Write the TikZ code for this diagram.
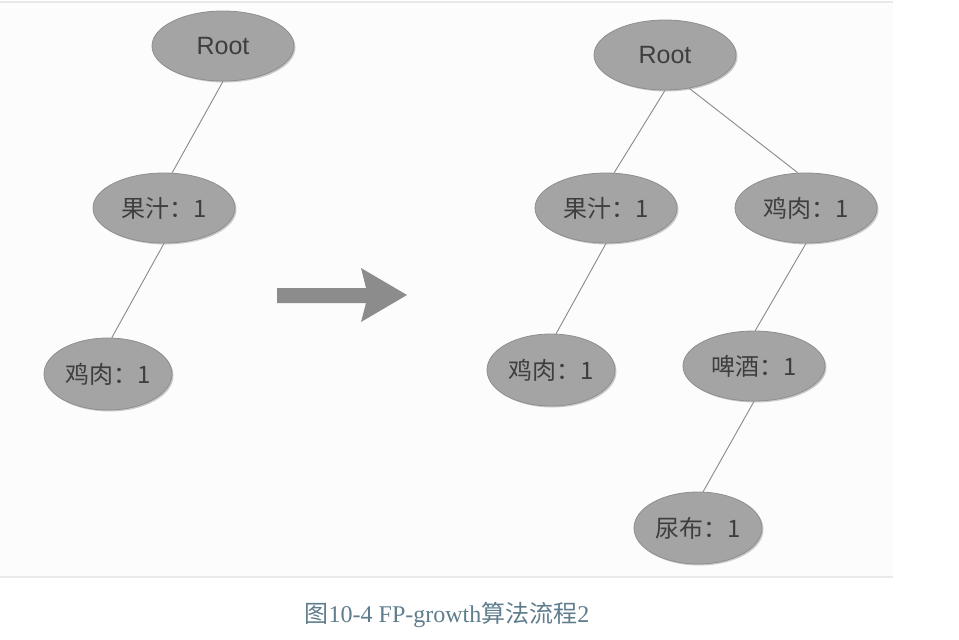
\documentclass[tikz,border=0pt]{standalone}
\usepackage{fontspec}
\setmainfont{Liberation Sans}
\newfontfamily\cjkfont{Noto Sans CJK SC}
\newfontfamily\capserif{Liberation Serif}
\usetikzlibrary{shapes.geometric,shadows}
\definecolor{nodefill}{HTML}{A4A4A4}
\definecolor{nodeedge}{HTML}{8E8E8E}
\definecolor{txt}{HTML}{3E3E3E}
\definecolor{arrowc}{HTML}{8C8C8C}
\definecolor{edgec}{HTML}{8A8A8A}
\definecolor{capc}{HTML}{5F7D8C}
\definecolor{rulec}{HTML}{E9E9E9}
\begin{document}
\begin{tikzpicture}[x=1pt,y=-1pt,
  tnode/.style={ellipse, fill=nodefill, draw=nodeedge, line width=0.8pt, inner sep=0pt,
    text=txt, drop shadow={shadow xshift=1.5pt, shadow yshift=-1.5pt, opacity=0.2, fill=black}},
  rootnode/.style={tnode, minimum width=142pt, minimum height=70pt, font=\fontsize{25}{28}\selectfont},
  itemnode/.style={tnode, minimum width=142pt, minimum height=70pt, font=\cjkfont\fontsize{24}{28}\selectfont},
  smallnode/.style={itemnode, minimum width=128pt, minimum height=72pt},
  edge/.style={draw=edgec, line width=0.9pt},
  rulel/.style={draw=rulec, line width=2pt}]
\useasboundingbox[fill=white] (0,0) rectangle (959,640);
\fill[black!1] (0,3) rectangle (893,576);
\draw[rulel] (0,2) -- (893,2);
\draw[rulel] (0,577) -- (893,577);
% left tree
\node[rootnode] (r1) at (223,46) {Root};
\node[itemnode] (g1) at (164,208) {果汁：1};
\node[smallnode] (j1) at (108,374) {鸡肉：1};
\draw[edge] (r1.south) -- (g1.77);
\draw[edge] (g1.south) -- (j1.84);
% arrow
\fill[arrowc] (277,288) -- (366,288) -- (361,268) -- (407,295) -- (361,322) -- (366,303) -- (277,303) -- cycle;
% right tree
\node[rootnode] (r2) at (665,55) {Root};
\node[itemnode] (g2) at (606,208) {果汁：1};
\node[itemnode] (j2) at (806,208) {鸡肉：1};
\node[smallnode] (j3) at (551,370) {鸡肉：1};
\node[itemnode] (b) at (754,366) {啤酒：1};
\node[smallnode] (n) at (698,528) {尿布：1};
\draw[edge] (r2.south) -- (g2.77);
\draw[edge] (r2.-54) -- (j2.103);
\draw[edge] (g2.south) -- (j3.82);
\draw[edge] (j2.south) -- (b.88);
\draw[edge] (b.south) -- (n.82);
% caption
\node[text=capc, font=\capserif\fontsize{24}{28}\selectfont] (cap) at (447,615)
  {{\cjkfont 图}10-4 FP-growth{\cjkfont 算法流程}2};
\end{tikzpicture}
\end{document}
